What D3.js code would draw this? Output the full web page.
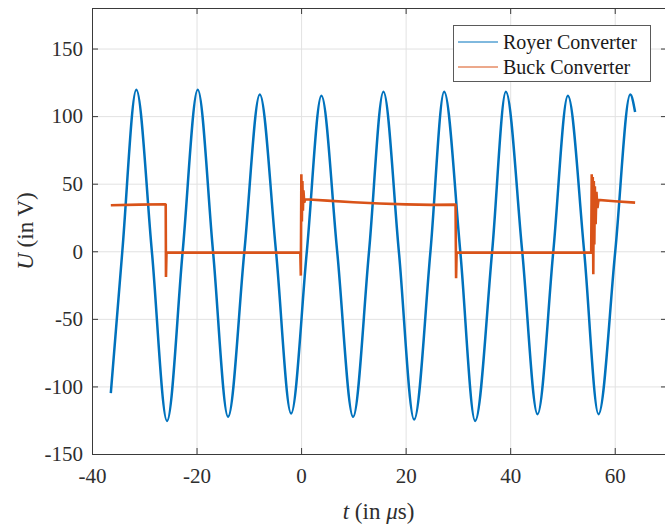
<!DOCTYPE html>
<html>
<head>
<meta charset="utf-8">
<script src="https://cdn.jsdelivr.net/npm/d3@7"></script>
<style>
  html, body { margin: 0; padding: 0; background: #fff; }
  svg { display: block; }
  svg text { font-family: "Liberation Serif", "Times New Roman", serif !important; }
</style>
</head>
<body>
<script>
// ---- data ----
const xTicks = [-40, -20, 0, 20, 40, 60];
const yTicks = [-150, -100, -50, 0, 50, 100, 150];
const seriesNames = ["Royer Converter", "Buck Converter"];

// Royer converter: start, zero crossings, peaks and troughs (t in µs, U in V)
const royerT = [-36.4, -34.2, -31.52, -28.55, -25.65, -22.65, -19.77, -16.85, -13.97, -10.85,
  -7.9, -4.8, -1.91, 1.1, 3.89, 6.9, 9.95, 13.0, 15.75, 18.7, 21.63, 24.75, 27.37, 30.45,
  33.3, 36.55, 39.18, 42.3, 45.23, 48.25, 51.04, 54.15, 56.9, 60.1, 62.97, 63.9];
const royerU = [-105, 0, 119.5, 0, -125.5, 0, 119.5, 0, -122.5, 0,
  116, 0, -120, 0, 115, 0, -122.5, 0, 118, 0, -124.5, 0, 118, 0,
  -125.5, 0, 118, 0, -120.5, 0, 115, 0, -120.5, 0, 116, 103];

// Buck converter
const buckT = [-36.4, -31, -26, -25.9, -25.85, -25.75, -20, -10, -0.15, -0.05, 0.05, 0.15,
  0.25, 0.35, 0.45, 0.6, 0.8, 5, 10, 15, 20, 25, 29.45, 29.55, 29.65, 29.75, 40, 50,
  55.5, 55.6, 55.7, 55.8, 55.9, 56.0, 56.1, 56.2, 56.35, 56.5, 56.7, 56.9, 60, 63.9];
const buckU = [34, 34.5, 34.8, 34.5, -19, -1, -1, -1, -1, -18, 57, 22,
  52, 30, 45, 36, 38.5, 37.5, 36.3, 35.3, 34.7, 34.3, 34.5, 34.3, -20, -1, -1, -1,
  -1, 57, -2, 55, -17, 52, 5, 48, 20, 44, 32, 38, 37, 36];

const colors = ["#0072BD", "#D95319"];

// ---- layout ----
const W = 665, H = 527;
const L = 92, R = 667, T = 8, B = 454;

const svg = d3.select("body").append("svg").attr("width", W).attr("height", H);

const x = d3.scaleLinear().domain([-40, 70]).range([L, R]);
const y = d3.scaleLinear().domain([-150, 180]).range([B, T]);

// grid
const grid = svg.append("g");
grid.append("g").attr("transform", `translate(0,${B})`)
  .call(d3.axisBottom(x).tickValues(xTicks.filter(v => v !== -40)).tickSize(-(B - T)).tickFormat(""))
  .call(g => g.select(".domain").remove())
  .call(g => g.selectAll("line").attr("stroke", "#e2e2e2").attr("stroke-width", 1));
grid.append("g").attr("transform", `translate(${L},0)`)
  .call(d3.axisLeft(y).tickValues(yTicks.filter(v => v !== -150)).tickSize(-(R - L)).tickFormat(""))
  .call(g => g.select(".domain").remove())
  .call(g => g.selectAll("line").attr("stroke", "#e2e2e2").attr("stroke-width", 1));

// data lines
const royer = royerT.map((t, i) => [t, royerU[i]]);
const buck = buckT.map((t, i) => [t, buckU[i]]);

svg.append("path").datum(royer)
  .attr("fill", "none").attr("stroke", colors[0]).attr("stroke-width", 2.5)
  .attr("stroke-linejoin", "round")
  .attr("d", d3.line().x(d => x(d[0])).y(d => y(d[1])).curve(d3.curveMonotoneX));

svg.append("path").datum(buck)
  .attr("fill", "none").attr("stroke", colors[1]).attr("stroke-width", 2.6)
  .attr("stroke-linejoin", "miter")
  .attr("d", d3.line().x(d => x(d[0])).y(d => y(d[1])));

// axes
const axCol = "#3a3a3a";
const fmt = d3.format("d");
function styleAxis(g) {
  g.attr("font-family", null);
  g.select(".domain").attr("stroke", axCol).attr("stroke-width", 1);
  g.selectAll(".tick line").attr("stroke", axCol).attr("stroke-width", 1);
  g.selectAll(".tick text").attr("fill", "#2e2e2e").attr("font-size", 21)
    .style("font-family", "'Liberation Serif', serif");
}
const xAxis = d3.axisBottom(x).tickValues(xTicks).tickSize(-6).tickPadding(0)
  .tickFormat(d => fmt(d).replace("\u2212", "-")).tickSizeOuter(0);
svg.append("g").attr("transform", `translate(0,${B})`).call(xAxis).call(styleAxis)
  .call(g => g.selectAll(".tick text").attr("y", 14).attr("dy", "0.71em"));

const yAxis = d3.axisLeft(y).tickValues(yTicks).tickSize(-6).tickPadding(9)
  .tickFormat(d => fmt(d).replace("\u2212", "-")).tickSizeOuter(0);
svg.append("g").attr("transform", `translate(${L},0)`).call(yAxis).call(styleAxis);

// top & right box
svg.append("g").attr("transform", `translate(0,${T})`)
  .call(d3.axisTop(x).tickValues(xTicks).tickSize(-6).tickFormat("").tickSizeOuter(0))
  .call(styleAxis);
svg.append("g").attr("transform", `translate(${R},0)`)
  .call(d3.axisRight(y).tickValues(yTicks).tickSize(-6).tickFormat("").tickSizeOuter(0))
  .call(styleAxis);

// axis labels
const xl = svg.append("text").attr("x", (L + R) / 2 - 1).attr("y", 519)
  .attr("text-anchor", "middle").attr("font-size", 23).attr("fill", "#2e2e2e");
xl.append("tspan").attr("font-style", "italic").text("t");
xl.append("tspan").text(" (in ");
xl.append("tspan").attr("font-style", "italic").text("\u03bc");
xl.append("tspan").text("s)");

const yl = svg.append("text").attr("transform", `translate(33,${(T + B) / 2}) rotate(-90)`)
  .attr("text-anchor", "middle").attr("font-size", 23).attr("fill", "#2e2e2e");
yl.append("tspan").attr("font-style", "italic").text("U");
yl.append("tspan").text(" (in V)");

// legend
const lg = svg.append("g");
lg.append("rect").attr("x", 453.5).attr("y", 25.5).attr("width", 197).attr("height", 56)
  .attr("fill", "#fff").attr("stroke", "#5a5a5a").attr("stroke-width", 1);
seriesNames.forEach((name, i) => {
  const yy = 42 + i * 25;
  lg.append("line").attr("x1", 458).attr("x2", 498).attr("y1", yy).attr("y2", yy)
    .attr("stroke", colors[i]).attr("stroke-width", 1);
  lg.append("text").attr("x", 503).attr("y", yy).attr("dy", "0.33em")
    .attr("font-size", 20).attr("fill", "#1a1a1a").text(name);
});
</script>
</body>
</html>
